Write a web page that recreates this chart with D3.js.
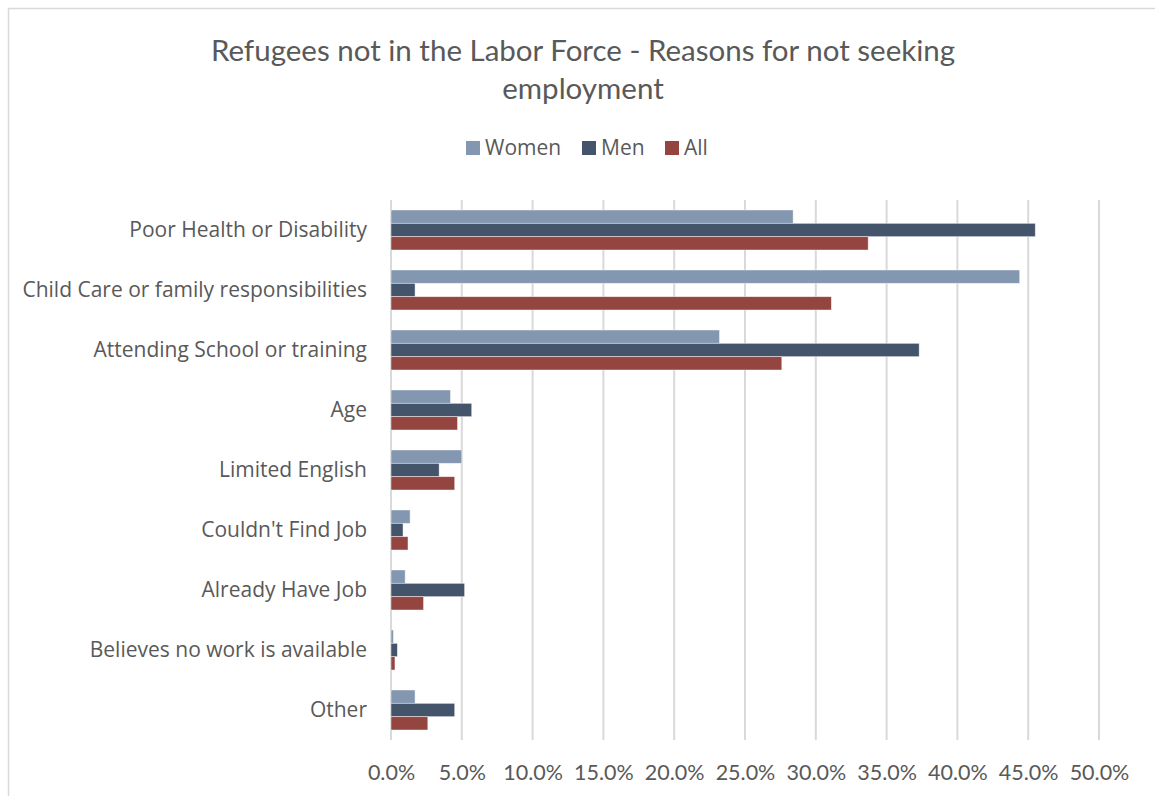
<!DOCTYPE html>
<html>
<head>
<meta charset="utf-8">
<script src="https://cdn.jsdelivr.net/npm/d3@7"></script>
<style>
  html, body { margin: 0; padding: 0; background: #fff; }
  svg { display: block; }
</style>
</head>
<body>
<svg id="chart" width="1155" height="796"></svg>
<script>
// Reasons for not seeking employment, share of refugees not in the labor force
const categories = [
  "Poor Health or Disability",
  "Child Care or family responsibilities",
  "Attending School or training",
  "Age",
  "Limited English",
  "Couldn't Find Job",
  "Already Have Job",
  "Believes no work is available",
  "Other"
];
const seriesNames = ["Women", "Men", "All"];
const women = [0.284, 0.444, 0.232, 0.042, 0.050, 0.0135, 0.010, 0.0017, 0.017];
const men   = [0.455, 0.017, 0.373, 0.057, 0.034, 0.0085, 0.052, 0.0045, 0.045];
const all   = [0.337, 0.311, 0.276, 0.047, 0.045, 0.012, 0.023, 0.0028, 0.026];
const xTicks = [0, 0.05, 0.10, 0.15, 0.20, 0.25, 0.30, 0.35, 0.40, 0.45, 0.50];
const titleLines = ["Refugees not in the Labor Force - Reasons for not seeking", "employment"];

const colors = { Women: "#8497b0", Men: "#44546a", All: "#954540" };
const textColor = "#595959";
const titleFont = "Lato, sans-serif";
const labelFont = "'Open Sans', Lato, sans-serif";

const svg = d3.select("#chart");
const W = 1155, H = 796;

// outer chart frame
svg.append("rect")
  .attr("x", 8.5).attr("y", 8.5)
  .attr("width", W).attr("height", H)
  .attr("fill", "#fff").attr("stroke", "#d9d9d9").attr("stroke-width", 1.5);

const plot = { left: 391, right: 1099, top: 200, bottom: 740 };

const x = d3.scaleLinear().domain([0, 0.5]).range([plot.left, plot.right]);
const y = d3.scaleBand().domain(categories).range([plot.top, plot.bottom]).paddingInner(0.333).paddingOuter(0.1665);
const ySub = d3.scaleBand().domain(seriesNames).range([0, y.bandwidth()]);

// gridlines
svg.append("g").selectAll("line").data(xTicks).join("line")
  .attr("x1", d => x(d)).attr("x2", d => x(d))
  .attr("y1", plot.top).attr("y2", plot.bottom)
  .attr("stroke", "#d9d9d9").attr("stroke-width", 2);

// x axis labels
const xAxis = d3.axisBottom(x).tickValues(xTicks).tickFormat(d3.format(".1%")).tickSize(0).tickPadding(0);
const gx = svg.append("g").attr("transform", `translate(0,${plot.bottom + 25})`).call(xAxis);
gx.select(".domain").remove();
gx.selectAll("text").attr("fill", textColor).style("font-family", titleFont).style("font-size", "21.5px")
  .attr("dy", "0.71em");

// y axis labels
const yAxis = d3.axisLeft(y).tickSize(0).tickPadding(24);
const gy = svg.append("g").attr("transform", `translate(${plot.left},0)`).call(yAxis);
gy.select(".domain").remove();
gy.selectAll("text").attr("fill", textColor).style("font-family", labelFont).style("font-size", "21px");

// bars
const seriesData = { Women: women, Men: men, All: all };
const rows = categories.map((c, i) => ({ cat: c, vals: seriesNames.map(s => ({ s, v: seriesData[s][i] })) }));
const groups = svg.append("g").selectAll("g").data(rows).join("g")
  .attr("transform", d => `translate(0,${y(d.cat)})`);
groups.selectAll("rect").data(d => d.vals).join("rect")
  .attr("x", x(0))
  .attr("y", d => ySub(d.s))
  .attr("width", d => x(d.v) - x(0))
  .attr("height", ySub.bandwidth())
  .attr("fill", d => colors[d.s])
  .attr("stroke", "#fff").attr("stroke-opacity", 0.6).attr("stroke-width", 0.75);

// title
svg.append("g").selectAll("text").data(titleLines).join("text")
  .attr("x", 583).attr("y", (d, i) => 61 + i * 38)
  .attr("text-anchor", "middle")
  .attr("fill", textColor).style("font-family", titleFont).style("font-size", "29.5px")
  .text(d => d);

// legend
const legendX = [466, 582, 665];
const legend = svg.append("g").selectAll("g").data(seriesNames).join("g")
  .attr("transform", (d, i) => `translate(${legendX[i]},148)`);
legend.append("rect").attr("x", 0).attr("y", -7).attr("width", 14).attr("height", 14)
  .attr("fill", d => colors[d]);
legend.append("text").attr("x", 19).attr("y", 0).attr("dy", "0.35em")
  .attr("fill", textColor).style("font-family", labelFont).style("font-size", "21px")
  .text(d => d);
</script>
</body>
</html>
